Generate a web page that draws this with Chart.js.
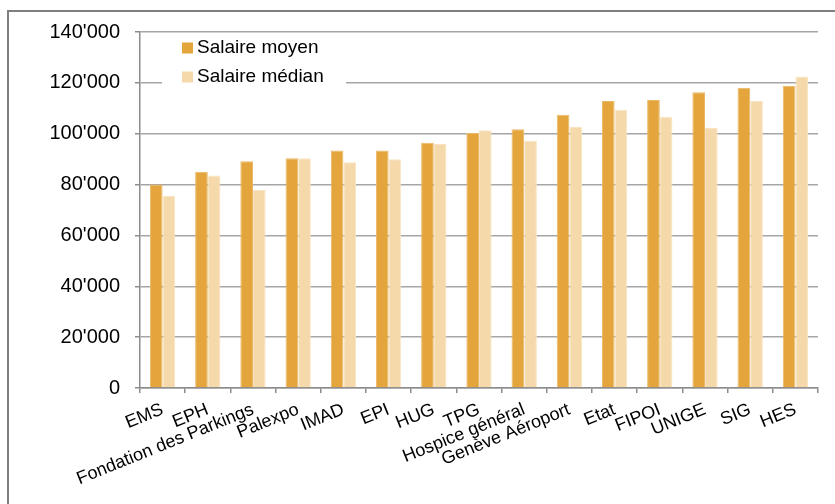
<!DOCTYPE html>
<html>
<head>
<meta charset="utf-8">
<script src="https://cdn.jsdelivr.net/npm/chart.js@4/dist/chart.umd.min.js"></script>
<style>
  html, body { margin: 0; padding: 0; background: #fff; }
  #wrap { position: relative; width: 835px; height: 504px; overflow: hidden; }
  #frame { position: absolute; left: 7px; top: 10px; width: 900px; height: 600px;
           border-left: 2px solid #7f7f82; border-top: 2px solid #7f7f82; }
  canvas { position: absolute; left: 0; top: 0; }
</style>
</head>
<body>
<div id="wrap">
  <div id="frame"></div>
  <canvas id="chart" width="835" height="504"></canvas>
</div>
<script>
// Salaires annuels par entité (CHF)
const categories = ['EMS', 'EPH', 'Fondation des Parkings', 'Palexpo', 'IMAD', 'EPI', 'HUG', 'TPG',
  'Hospice général', 'Genève Aéroport', 'Etat', 'FIPOI', 'UNIGE', 'SIG', 'HES'];
const salaireMoyen = [80000, 85000, 89200, 90400, 93400, 93400, 96400, 100300,
  101800, 107500, 112900, 113300, 116300, 118100, 118900];
const salaireMedian = [75600, 83600, 77900, 90400, 88800, 90000, 96000, 101400,
  97200, 102600, 109400, 106700, 102200, 112900, 122500];
const yTicks = [0, 20000, 40000, 60000, 80000, 100000, 120000, 140000];

const FONT = 'Liberation Sans, Arial, sans-serif';

function fmt(v) {
  return String(v).replace(/\B(?=(\d{3})+(?!\d))/g, "'");
}

// legend drawn inside the plot, top-left, over a white box
const insideLegend = {
  id: 'insideLegend',
  afterDraw(chart) {
    const ctx = chart.ctx;
    ctx.save();
    ctx.fillStyle = '#fff';
    ctx.fillRect(162, 36, 184, 54);
    ctx.font = '19px ' + FONT;
    ctx.textBaseline = 'middle';
    chart.data.datasets.forEach((ds, i) => {
      const y = 48 + i * 29;
      ctx.fillStyle = ds.backgroundColor;
      ctx.fillRect(182, y - 5.5, 11, 11);
      ctx.fillStyle = '#000';
      ctx.fillText(ds.label, 197, y);
    });
    ctx.restore();
  }
};

new Chart(document.getElementById('chart'), {
  type: 'bar',
  data: {
    labels: categories,
    datasets: [
      { label: 'Salaire moyen', data: salaireMoyen, backgroundColor: '#e4a53d',
        borderColor: '#eab865', borderWidth: 1, borderSkipped: 'bottom' },
      { label: 'Salaire médian', data: salaireMedian, backgroundColor: '#f5d9ab',
        borderColor: '#f8e4c2', borderWidth: 1, borderSkipped: 'bottom' }
    ]
  },
  plugins: [insideLegend],
  options: {
    responsive: false,
    animation: false,
    layout: { padding: { top: 32, right: 17, left: 0, bottom: 0 } },
    categoryPercentage: 0.56,
    barPercentage: 1,
    plugins: { legend: { display: false }, tooltip: { enabled: false } },
    scales: {
      x: {
        afterFit(scale) { scale.height = 116; },
        grid: { display: true, drawOnChartArea: false, offset: true, tickLength: 5,
                color: '#8c8c8c', lineWidth: 1.5 },
        border: { color: '#8c8c8c', width: 1.5 },
        ticks: { minRotation: 22, maxRotation: 22, autoSkip: false, padding: 6,
                 color: '#000', font: { family: FONT, size: 18 } }
      },
      y: {
        min: 0, max: 140000,
        afterFit(scale) { scale.width = 140; },
        afterBuildTicks(scale) { scale.ticks = yTicks.map(v => ({ value: v })); },
        grid: { color: '#a6a6a6', lineWidth: 1.5, tickLength: 5, tickColor: '#8c8c8c' },
        border: { color: '#8c8c8c', width: 1.5 },
        ticks: { padding: 15, color: '#000', font: { family: FONT, size: 20 },
                 callback: v => fmt(v) }
      }
    }
  }
});
</script>
</body>
</html>
